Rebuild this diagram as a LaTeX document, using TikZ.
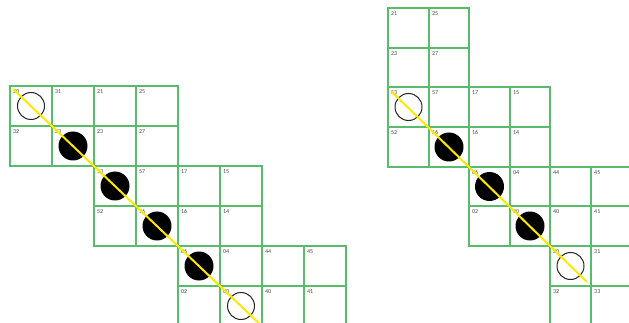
\documentclass[tikz,border=0pt]{standalone}
\usepackage{fontspec}
\setmainfont{Carlito}
\definecolor{gridgreen}{RGB}{88,188,108}
\definecolor{hl}{RGB}{255,232,0}
\tikzset{
  cell/.style={draw=gridgreen, line width=1.4pt, minimum width=42pt, minimum height=40pt, inner sep=0pt, outer sep=0pt, anchor=north west},
  num/.style={font=\fontsize{6}{7}\selectfont, text=black!70, inner sep=0pt, anchor=north west},
  hole/.style={circle, draw=black!85, line width=1pt, minimum size=27pt, inner sep=0pt},
  stone/.style={circle, fill=black, minimum size=29pt, inner sep=0pt},
  diag/.style={draw=hl, line width=2pt},
}
\begin{document}
\begin{tikzpicture}[x=1pt,y=-1pt]
\useasboundingbox[fill=white] (0,0) rectangle (629,323);
% left board
\foreach \r/\c/\t in {0/0/30,0/1/31,0/2/21,0/3/25,1/0/32,1/1/33,1/2/23,1/3/27,
                      2/2/53,2/3/57,2/4/17,2/5/15,3/2/52,3/3/56,3/4/16,3/5/14,
                      4/4/06,4/5/04,4/6/44,4/7/45,5/4/02,5/5/00,5/6/40,5/7/41}{
  \node[cell] (L-\r-\c) at ({10+42*\c},{86+40*\r}) {};
  \node[num] (Ln-\r-\c) at ([xshift=3pt,yshift=-3pt]L-\r-\c.north west) {\t};
}
% right board
\foreach \r/\c/\t in {0/0/21,0/1/25,1/0/23,1/1/27,
                      2/0/53,2/1/57,2/2/17,2/3/15,3/0/52,3/1/56,3/2/16,3/3/14,
                      4/2/06,4/3/04,4/4/44,4/5/45,5/2/02,5/3/00,5/4/40,5/5/41,
                      6/4/30,6/5/31,7/4/32,7/5/33}{
  \pgfmathsetmacro\xa{round(388+40.6*\c)}
  \pgfmathsetmacro\xb{round(388+40.6*(\c+1))}
  \pgfmathsetmacro\ya{round(8+39.7*\r)}
  \pgfmathsetmacro\yb{round(8+39.7*(\r+1))}
  \node[cell, minimum width={(\xb-\xa)*1pt}, minimum height={(\yb-\ya)*1pt}] (R-\r-\c) at (\xa,\ya) {};
  \node[num] (Rn-\r-\c) at ([xshift=3pt,yshift=-3pt]R-\r-\c.north west) {\t};
}
% pieces left
\node[hole]  (Lh1) at (L-0-0.center) {};
\node[stone] (Ls1) at (L-1-1.center) {};
\node[stone] (Ls2) at (L-2-2.center) {};
\node[stone] (Ls3) at (L-3-3.center) {};
\node[stone] (Ls4) at (L-4-4.center) {};
\node[hole]  (Lh2) at (L-5-5.center) {};
% pieces right
\node[hole]  (Rh1) at (R-2-0.center) {};
\node[stone] (Rs1) at (R-3-1.center) {};
\node[stone] (Rs2) at (R-4-2.center) {};
\node[stone] (Rs3) at (R-5-3.center) {};
\node[hole]  (Rh2) at (R-6-4.center) {};
% diagonals
\draw[diag] ([xshift=3pt,yshift=-3pt]L-0-0.north west) -- ([xshift=1pt,yshift=-1pt]L-5-5.south east);
\draw[diag] ([xshift=3.5pt,yshift=-4.5pt]R-2-0.north west) -- ([xshift=-4pt,yshift=4pt]R-6-4.south east);
\end{tikzpicture}
\end{document}
